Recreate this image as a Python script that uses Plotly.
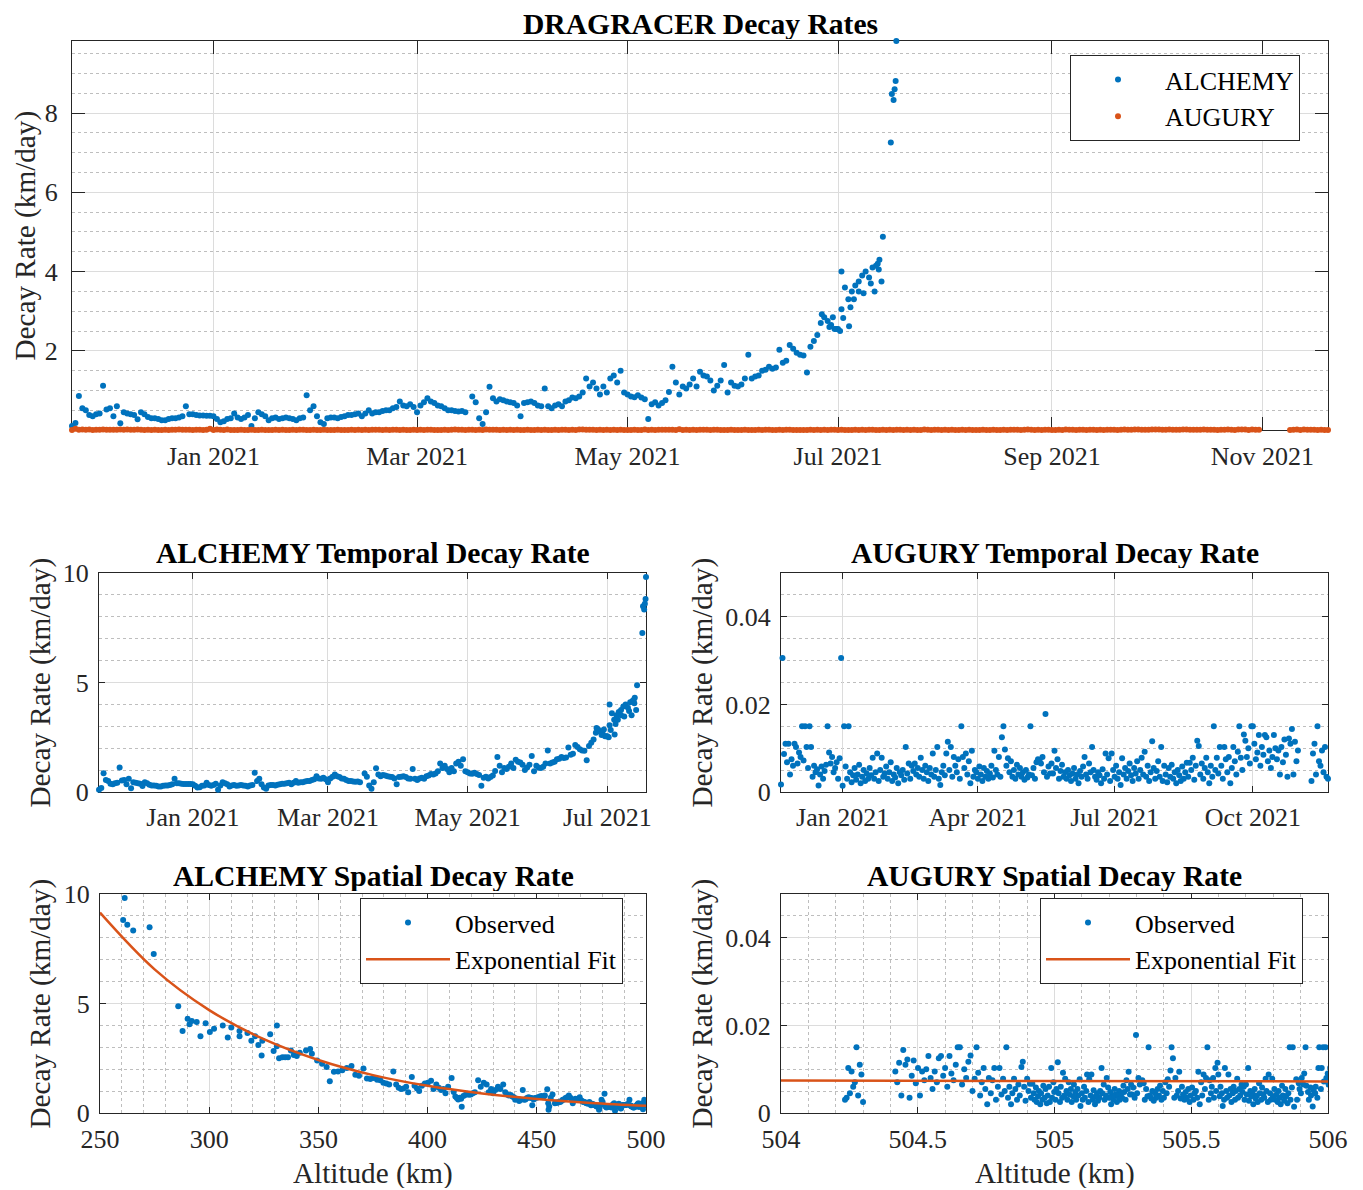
import pandas as pd
import plotly.graph_objects as go

W, H = 1363, 1190
OFF = 8  # page body margin in the browser
FONT = "Liberation Serif"
BLUE = "#0072BD"
ORANGE = "#D95319"
AXC = "#262626"

# ---------------- ALCHEMY (daily samples from start date) ----------------
alchemy_start = "2020-11-21"
alchemy_rate = [
    0.1, 0.18, 0.86, 0.55, 0.5, 0.38, 0.35, 0.4, 0.42, 1.12,
    0.52, 0.55, 0.35, 0.6, 0.17, 0.45, 0.42, 0.4, 0.38, 0.27,
    0.45, 0.4, 0.33, 0.3, 0.3, 0.28, 0.25, 0.25, 0.28, 0.3,
    0.3, 0.32, 0.35, 0.6, 0.4, 0.4, 0.38, 0.37, 0.37, 0.36,
    0.36, 0.35, 0.28, 0.2, 0.22, 0.28, 0.3, 0.42, 0.32, 0.28,
    0.32, 0.38, 0.1, 0.3, 0.45, 0.4, 0.35, 0.25, 0.3, 0.32,
    0.28, 0.3, 0.32, 0.3, 0.28, 0.25, 0.3, 0.32, 0.88, 0.5,
    0.6, 0.35, 0.2, 0.15, 0.3, 0.32, 0.32, 0.3, 0.33, 0.35,
    0.38, 0.38, 0.4, 0.42, 0.35, 0.42, 0.5, 0.42, 0.45, 0.45,
    0.48, 0.5, 0.5, 0.55, 0.58, 0.72, 0.62, 0.6, 0.65, 0.58,
    0.45, 0.62, 0.7, 0.8, 0.72, 0.68, 0.62, 0.6, 0.55, 0.5,
    0.5, 0.48, 0.47, 0.48, 0.45, None, 0.85, 0.7, 0.3, 0.15,
    0.45, 1.09, 0.8, 0.72, 0.78, 0.75, 0.72, 0.7, 0.68, 0.62,
    0.35, 0.68, 0.7, 0.72, 0.68, 0.62, 0.6, 1.05, 0.6, 0.55,
    0.62, 0.65, 0.6, 0.72, 0.75, 0.82, 0.8, 0.85, 0.95, 1.3,
    1.1, 1.2, 1.05, 0.9, 1.1, 0.95, 1.3, 1.38, 1.2, 1.5,
    0.95, 0.9, 0.85, 0.83, 0.88, 0.82, 0.78, 0.28, 0.65, 0.7,
    0.62, 0.68, 0.75, 0.96, 1.6, 1.2, 0.9, 1.1, 1.05, 1.15,
    1.3, 1.1, 1.47, 1.38, 1.35, 1.25, 1.0, 1.12, 1.25, 1.64,
    0.95, 1.2, 1.12, 1.1, 1.15, 1.3, 1.9, 1.3, 1.35, 1.38,
    1.5, 1.52, 1.6, 1.55, 1.58, 2.03, 1.7, 1.75, 2.15, 2.05,
    1.95, 1.9, 1.88, 1.45, 2.1, 2.25, 2.4, 2.7, 2.85, 2.75,
    2.65, 2.55, 2.55, 3.05, 3.6, 3.3, 3.5, 3.65, 3.75, 3.9,
    4.0, 3.85, 4.1, 4.15, 4.3, 4.88,
]
alchemy_alt = [
    505.5, 505.4, 505.22, 504.36, 503.81, 503.31, 502.93, 502.58, 502.18, 501.76,
    500.64, 500.12, 499.57, 499.22, 498.62, 498.45, 498.0, 497.58, 497.18, 496.8,
    496.53, 496.08, 495.68, 495.35, 495.05, 494.75, 494.47, 494.22, 493.97, 493.69,
    493.39, 493.09, 492.77, 492.42, 491.82, 491.42, 491.02, 490.64, 490.27, 489.9,
    489.54, 489.18, 488.83, 488.55, 488.35, 488.13, 487.85, 487.55, 487.13, 486.81,
    486.53, 486.21, 485.83, 485.73, 485.43, 484.98, 484.58, 484.23, 483.98, 483.68,
    483.36, 483.08, 482.78, 482.46, 482.16, 481.88, 481.63, 481.33, 481.01, 480.13,
    479.63, 479.03, 478.68, 478.48, 478.33, 478.03, 477.71, 477.39, 477.09, 476.76,
    476.41, 476.03, 475.65, 475.25, 474.83, 474.48, 474.06, 473.56, 473.14, 472.69,
    472.24, 471.76, 471.26, 470.76, 470.21, 469.63, 468.91, 468.29, 467.69, 467.04,
    466.46, 466.01, 465.39, 464.69, 463.89, 463.17, 462.49, 461.87, 461.27, 460.72,
    460.22, 459.72, 459.24, 458.77, 458.29, None, 457.2, 456.39, 455.69, 455.39,
    455.24, 454.79, 453.7, 452.9, 452.18, 451.4, 450.65, 449.93, 449.23, 448.55,
    447.93, 447.58, 446.9, 446.2, 445.48, 444.8, 444.18, 443.58, 442.53, 441.93,
    441.38, 440.76, 440.11, 439.51, 438.79, 438.04, 437.22, 436.42, 435.57, 434.62,
    433.32, 432.22, 431.02, 429.97, 429.07, 427.97, 427.02, 425.72, 424.34, 423.14,
    421.64, 420.69, 419.79, 418.94, 418.11, 417.23, 416.41, 415.63, 415.35, 414.7,
    414.0, 413.38, 412.7, 411.95, 410.99, 409.39, 408.19, 407.29, 406.19, 405.14,
    403.99, 402.69, 401.59, 400.12, 398.74, 397.39, 396.14, 395.14, 394.02, 392.77,
    391.13, 390.18, 388.98, 387.86, 386.76, 385.61, 384.31, 382.41, 381.11, 379.76,
    378.38, 376.88, 375.36, 373.76, 372.21, 370.63, 368.6, 366.9, 365.15, 363.0,
    360.95, 359.0, 357.1, 355.22, 353.77, 351.67, 349.42, 347.02, 344.32, 341.47,
    338.72, 336.07, 333.52, 330.97, 327.92, 324.32, 321.02, 317.52, 313.87, 310.12,
    306.22, 302.22, 298.37, 294.27, 290.12, 285.82,
]
# additional (sub-daily) ALCHEMY observations
alchemy_extra_day = [217.3, 219.5, 220.5, 221.5, 222.6, 223.0, 223.5, 225.2, 225.6, 226.6,
                     228.0, 229.4, 231.5, 232.6, 233.5, 233.8, 234.6,
                     237.3, 237.6, 238.1, 238.4, 238.7, 238.9]
alchemy_extra_rate = [2.92, 2.60, 2.85, 2.55, 2.50, 4.00, 2.83, 2.62, 3.10, 3.30,
                      3.50, 3.45, 3.70, 3.50, 4.20, 4.05, 3.75,
                      7.26, 8.48, 8.33, 8.60, 8.81, 9.82]
alchemy_extra_alt = [346.2, 340.1, 337.4, 334.8, 332.0, 331.0, 329.5, 324.0, 322.5, 319.3,
                     313.9, 308.5, 300.3, 296.0, 292.0, 291.0, 287.8,
                     274.6, 272.7, 265.2, 262.5, 260.6, 261.3]

# ---------------- AUGURY (daily samples from start date) ----------------
augury_start = "2020-11-21"
augury_rate = [
    0.0017, 0.0306, 0.0087, 0.0110, 0.0068, 0.0110, 0.0040, 0.0075, 0.0060, 0.0110,
    0.0103, 0.0065, 0.0090, 0.0080, 0.0150, 0.0072, 0.0150, 0.0103, 0.0055, 0.0150,
    0.0103, 0.0035, 0.0060, 0.0045, 0.0052, 0.0015, 0.0040, 0.0058, 0.0030, 0.0048,
    0.0062, 0.0150, 0.0090, 0.0065, 0.0080, 0.0045, 0.0055, 0.0068, 0.0030, 0.0077,
    0.0306, 0.0014, 0.0150, 0.0058, 0.0030, 0.0150, 0.0045, 0.0022, 0.0038, 0.0055,
    0.0028, 0.0040, 0.0062, 0.0020, 0.0035, 0.0050, 0.0025, 0.0042, 0.0030, 0.0055,
    0.0038, 0.0078, 0.0030, 0.0045, 0.0088, 0.0025, 0.0050, 0.0078, 0.0035, 0.0042,
    0.0058, 0.0030, 0.0045, 0.0068, 0.0025, 0.0040, 0.0033, 0.0055, 0.0020, 0.0045,
    0.0038, 0.0050, 0.0028, 0.0103, 0.0042, 0.0065, 0.0030, 0.0060, 0.0048, 0.0065,
    0.0040, 0.0055, 0.0035, 0.0078, 0.0050, 0.0030, 0.0060, 0.0045, 0.0025, 0.0055,
    0.0040, 0.0088, 0.0035, 0.0050, 0.0103, 0.0030, 0.0016, 0.0045, 0.0060, 0.0038,
    0.0088, 0.0115, 0.0050, 0.0103, 0.0035, 0.0080, 0.0060, 0.0045, 0.0075, 0.0030,
    0.0150, 0.0080, 0.0055, 0.0088, 0.0040, 0.0070, 0.0020, 0.0094, 0.0035, 0.0050,
    0.0045, 0.0030, 0.0058, 0.0040, 0.0025, 0.0055, 0.0035, 0.0048, 0.0030, 0.0042,
    0.0060, 0.0033, 0.0094, 0.0050, 0.0040, 0.0080, 0.0035, 0.0125, 0.0150, 0.0097,
    0.0060, 0.0077, 0.0045, 0.0070, 0.0035, 0.0050, 0.0030, 0.0062, 0.0040, 0.0055,
    0.0035, 0.0045, 0.0028, 0.0050, 0.0033, 0.0040, 0.0150, 0.0038, 0.0055, 0.0030,
    0.0068, 0.0075, 0.0072, 0.0065, 0.0080, 0.0045, 0.0178, 0.0035, 0.0058, 0.0042,
    0.0065, 0.0042, 0.0094, 0.0055, 0.0075, 0.0030, 0.0048, 0.0062, 0.0035, 0.0045,
    0.0030, 0.0050, 0.0038, 0.0025, 0.0042, 0.0055, 0.0030, 0.0040, 0.0020, 0.0048,
    0.0035, 0.0058, 0.0080, 0.0040, 0.0030, 0.0065, 0.0045, 0.0103, 0.0050, 0.0035,
    0.0028, 0.0045, 0.0038, 0.0020, 0.0052, 0.0030, 0.0088, 0.0040, 0.0077, 0.0025,
    0.0088, 0.0050, 0.0035, 0.0060, 0.0030, 0.0045, 0.0016, 0.0077, 0.0040, 0.0055,
    0.0030, 0.0048, 0.0065, 0.0038, 0.0025, 0.0055, 0.0042, 0.0070, 0.0030, 0.0050,
    0.0078, 0.0040, 0.0092, 0.0035, 0.0060, 0.0025, 0.0045, 0.0116, 0.0055, 0.0030,
    0.0048, 0.0070, 0.0035, 0.0103, 0.0025, 0.0060, 0.0040, 0.0022, 0.0055, 0.0035,
    0.0062, 0.0030, 0.0045, 0.0020, 0.0050, 0.0038, 0.0025, 0.0058, 0.0030, 0.0045,
    0.0067, 0.0035, 0.0067, 0.0050, 0.0078, 0.0028, 0.0060, 0.0117, 0.0105, 0.0040,
    0.0065, 0.0030, 0.0055, 0.0078, 0.0045, 0.0020, 0.0060, 0.0035, 0.0150, 0.0050,
    0.0078, 0.0042, 0.0103, 0.0060, 0.0030, 0.0103, 0.0075, 0.0045, 0.0080, 0.0020,
    0.0055, 0.0103, 0.0070, 0.0040, 0.0092, 0.0150, 0.0078, 0.0050, 0.0131, 0.0117,
    0.0080, 0.0100, 0.0065, 0.0150, 0.0150, 0.0110, 0.0075, 0.0090, 0.0130, 0.0060,
    0.0103, 0.0085, 0.0130, 0.0125, 0.0070, 0.0095, 0.0055, 0.0080, 0.0130, 0.0100,
    0.0075, 0.0095, 0.0040, 0.0103, 0.0068, 0.0120, 0.0085, 0.0035, 0.0122, 0.0110,
    0.0144, 0.0040, 0.0115, 0.0070, 0.0095, None, None, None, None, None,
    None, None, None, 0.0025, 0.0088, 0.0110, 0.0040, 0.0150, 0.0070, 0.0060,
    0.0095, 0.0045, 0.0103, 0.0035, 0.0030,
]
augury_alt = [
    506.050, 506.044, 506.041, 506.035, 506.033, 506.027, 506.025, 506.019, 506.016, 506.011,
    506.008, 506.002, 505.999, 505.994, 505.991, 505.985, 505.982, 505.977, 505.974, 505.968,
    505.965, 505.961, 505.955, 505.953, 505.947, 505.944, 505.938, 505.936, 505.930, 505.927,
    505.921, 505.918, 505.913, 505.910, 505.904, 505.901, 505.896, 505.893, 505.887, 505.884,
    505.880, 505.876, 505.871, 505.868, 505.863, 505.860, 505.855, 505.852, 505.847, 505.844,
    505.840, 505.835, 505.832, 505.827, 505.824, 505.819, 505.816, 505.812, 505.807, 505.804,
    505.799, 505.796, 505.791, 505.788, 505.783, 505.780, 505.775, 505.772, 505.767, 505.764,
    505.759, 505.756, 505.751, 505.748, 505.743, 505.740, 505.735, 505.732, 505.727, 505.724,
    505.719, 505.716, 505.711, 505.708, 505.703, 505.700, 505.695, 505.692, 505.687, 505.684,
    505.679, 505.676, 505.671, 505.668, 505.663, 505.660, 505.655, 505.652, 505.647, 505.644,
    505.639, 505.636, 505.631, 505.628, 505.623, 505.620, 505.615, 505.612, 505.607, 505.604,
    505.599, 505.596, 505.591, 505.588, 505.583, 505.580, 505.575, 505.572, 505.567, 505.564,
    505.559, 505.554, 505.550, 505.545, 505.540, 505.536, 505.531, 505.526, 505.522, 505.517,
    505.512, 505.508, 505.503, 505.498, 505.494, 505.489, 505.484, 505.480, 505.475, 505.470,
    505.466, 505.461, 505.456, 505.452, 505.447, 505.442, 505.438, 505.433, 505.428, 505.424,
    505.419, 505.414, 505.410, 505.405, 505.400, 505.396, 505.391, 505.386, 505.382, 505.377,
    505.372, 505.368, 505.363, 505.358, 505.354, 505.349, 505.344, 505.340, 505.335, 505.330,
    505.326, 505.321, 505.316, 505.312, 505.307, 505.302, 505.298, 505.293, 505.288, 505.284,
    505.280, 505.276, 505.271, 505.268, 505.263, 505.260, 505.255, 505.252, 505.247, 505.244,
    505.239, 505.236, 505.231, 505.228, 505.223, 505.220, 505.215, 505.212, 505.207, 505.204,
    505.199, 505.196, 505.191, 505.188, 505.183, 505.180, 505.175, 505.172, 505.167, 505.164,
    505.159, 505.156, 505.151, 505.148, 505.143, 505.140, 505.135, 505.132, 505.127, 505.124,
    505.119, 505.116, 505.111, 505.108, 505.103, 505.100, 505.095, 505.092, 505.087, 505.084,
    505.079, 505.076, 505.071, 505.068, 505.063, 505.060, 505.055, 505.052, 505.047, 505.044,
    505.039, 505.036, 505.031, 505.028, 505.023, 505.020, 505.015, 505.012, 505.007, 505.004,
    504.999, 504.996, 504.991, 504.988, 504.983, 504.980, 504.975, 504.972, 504.967, 504.964,
    504.959, 504.956, 504.951, 504.948, 504.943, 504.940, 504.935, 504.932, 504.927, 504.924,
    504.919, 504.914, 504.910, 504.905, 504.900, 504.894, 504.889, 504.884, 504.879, 504.873,
    504.868, 504.863, 504.857, 504.852, 504.846, 504.841, 504.835, 504.830, 504.824, 504.818,
    504.812, 504.806, 504.799, 504.793, 504.786, 504.780, 504.773, 504.767, 504.760, 504.754,
    504.747, 504.741, 504.734, 504.728, 504.721, 504.715, 504.708, 504.700, 504.693, 504.685,
    504.677, 504.670, 504.662, 504.654, 504.646, 504.639, 504.631, 504.623, 504.616, 504.608,
    504.600, 504.593, 504.585, 504.577, 504.570, 504.562, 504.554, 504.547, 504.539, 504.531,
    504.524, 504.516, 504.508, 504.501, 504.493, 504.485, 504.478, 504.470, 504.462, 504.455,
    504.447, 504.440, 504.432, 504.425, 504.418, None, None, None, None, None,
    None, None, None, 504.300, 504.294, 504.288, 504.282, 504.276, 504.270, 504.264,
    504.258, 504.252, 504.246, 504.240, 504.234,
]

# exponential fit curves
alchemy_fit_alt = [250, 275, 300, 325, 350, 375, 400, 425, 450, 475, 500]
alchemy_fit_rate = [9.15, 6.56, 4.70, 3.37, 2.42, 1.73, 1.24, 0.89, 0.64, 0.46, 0.33]
augury_fit_alt = [504.0, 505.0, 506.0]
augury_fit_rate = [0.0074, 0.00731, 0.0072]

# ---------------- build time stamps ----------------
t_alc0 = pd.Timestamp(alchemy_start)
alc_t = [t_alc0 + pd.Timedelta(days=i) for i in range(len(alchemy_rate))] + \
        [t_alc0 + pd.Timedelta(days=d) for d in alchemy_extra_day]
alc_r = alchemy_rate + alchemy_extra_rate
alc_a = alchemy_alt + alchemy_extra_alt
t_aug0 = pd.Timestamp(augury_start)
aug_t = [t_aug0 + pd.Timedelta(days=i) for i in range(len(augury_rate))]


def px_x(p):
    return (p - OFF) / W


def px_y(p):
    return 1 - (p - OFF) / H


fig = go.Figure()
MS = 6

# top panel
fig.add_trace(go.Scatter(x=alc_t, y=alc_r, mode="markers", name="ALCHEMY",
                         marker=dict(color=BLUE, size=MS), xaxis="x", yaxis="y",
                         cliponaxis=False, legend="legend"))
fig.add_trace(go.Scatter(x=aug_t, y=augury_rate, mode="markers", name="AUGURY",
                         marker=dict(color=ORANGE, size=MS), xaxis="x", yaxis="y",
                         cliponaxis=False, legend="legend"))
# middle left
fig.add_trace(go.Scatter(x=alc_t, y=alc_r, mode="markers", showlegend=False,
                         marker=dict(color=BLUE, size=MS), xaxis="x2", yaxis="y2",
                         cliponaxis=False))
# middle right
fig.add_trace(go.Scatter(x=aug_t, y=augury_rate, mode="markers", showlegend=False,
                         marker=dict(color=BLUE, size=MS), xaxis="x3", yaxis="y3",
                         cliponaxis=False))
# bottom left
fig.add_trace(go.Scatter(x=alc_a, y=alc_r, mode="markers", name="Observed",
                         marker=dict(color=BLUE, size=MS), xaxis="x4", yaxis="y4",
                         legend="legend2"))
fig.add_trace(go.Scatter(x=alchemy_fit_alt, y=alchemy_fit_rate, mode="lines",
                         name="Exponential Fit", line=dict(color=ORANGE, width=2.5, shape="spline"),
                         xaxis="x4", yaxis="y4", legend="legend2"))
# bottom right
fig.add_trace(go.Scatter(x=augury_alt, y=augury_rate, mode="markers", name="Observed",
                         marker=dict(color=BLUE, size=MS), xaxis="x5", yaxis="y5",
                         legend="legend3"))
fig.add_trace(go.Scatter(x=augury_fit_alt, y=augury_fit_rate, mode="lines",
                         name="Exponential Fit", line=dict(color=ORANGE, width=2.5),
                         xaxis="x5", yaxis="y5", legend="legend3"))

TICKFONT = dict(family=FONT, size=26, color=AXC)


def axis(domain, ticklen, anchor, **kw):
    d = dict(domain=domain, anchor=anchor, showline=True, linecolor=AXC, linewidth=1,
             mirror="ticks", ticks="inside", ticklen=ticklen, tickcolor=AXC, tickwidth=1,
             showgrid=True, gridcolor="#DCDCDC", gridwidth=1, zeroline=False,
             tickfont=TICKFONT, layer="below traces", automargin=False)
    d.update(kw)
    return d


def minor(dt):
    return dict(dtick=dt, showgrid=True, gridcolor="#BEBEBE", griddash="dot",
                gridwidth=1, ticks="")


top_x = [px_x(72), px_x(1328)]
top_y = [px_y(430), px_y(41)]
ml_x = [px_x(99), px_x(646)]
mr_x = [px_x(781), px_x(1328)]
mid_y = [px_y(792), px_y(573)]
bot_y = [px_y(1113), px_y(894)]
bl_x = [px_x(100), px_x(646)]

end_alc = t_alc0 + pd.Timedelta(days=alchemy_extra_day[-1])
end_aug = aug_t[-1]

fig.update_layout(
    width=W, height=H, margin=dict(l=0, r=0, t=0, b=0, autoexpand=False),
    paper_bgcolor="white", plot_bgcolor="white",
    xaxis=axis(top_x, 13, "y", type="date", range=[t_alc0, end_aug],
               dtick="M2", tick0="2021-01-01", tickformat="%b %Y", ticklabelstandoff=3),
    yaxis=axis(top_y, 13, "x", range=[0.0014, 9.82], dtick=2, tick0=0,
               minor=minor(0.5), ticklabelstandoff=8),
    xaxis2=axis(ml_x, 6, "y2", type="date", range=[t_alc0, end_alc],
                dtick="M2", tick0="2021-01-01", tickformat="%b %Y", ticklabelstandoff=2),
    yaxis2=axis(mid_y, 6, "x2", range=[0, 10], dtick=5, tick0=0,
                minor=minor(1), ticklabelstandoff=4),
    xaxis3=axis(mr_x, 6, "y3", type="date", range=[t_aug0, end_aug],
                dtick="M3", tick0="2021-01-01", tickformat="%b %Y", ticklabelstandoff=2),
    yaxis3=axis(mid_y, 6, "x3", range=[0, 0.05], dtick=0.02, tick0=0,
                minor=minor(0.005), ticklabelstandoff=4),
    xaxis4=axis(bl_x, 6, "y4", range=[250, 500], dtick=50, tick0=250,
                minor=minor(10), ticklabelstandoff=3),
    yaxis4=axis(bot_y, 6, "x4", range=[0, 10], dtick=5, tick0=0,
                minor=minor(1), ticklabelstandoff=4),
    xaxis5=axis(mr_x, 6, "y5", range=[504, 506], dtick=0.5, tick0=504,
                minor=minor(0.1), ticklabelstandoff=3),
    yaxis5=axis(bot_y, 6, "x5", range=[0, 0.05], dtick=0.02, tick0=0,
                minor=minor(0.005), ticklabelstandoff=4),
)

LEG = dict(xanchor="left", yanchor="top", bgcolor="white", bordercolor=AXC, borderwidth=1,
           font=dict(family=FONT, size=26, color="black"), itemwidth=84, tracegroupgap=0)
fig.update_layout(
    legend=dict(LEG, x=px_x(1070), y=px_y(55)),
    legend2=dict(LEG, x=px_x(360), y=px_y(898)),
    legend3=dict(LEG, x=px_x(1040), y=px_y(898)),
)

TITLEFONT = dict(family=FONT, size=29.6, color="black")
LABFONT = dict(family=FONT, size=29.2, color=AXC)
ann = []
for txt, x, y in [("DRAGRACER Decay Rates", 700, 24),
                  ("ALCHEMY Temporal Decay Rate", 372.5, 553),
                  ("AUGURY Temporal Decay Rate", 1054.5, 553),
                  ("ALCHEMY Spatial Decay Rate", 373, 876),
                  ("AUGURY Spatial Decay Rate", 1054.5, 876)]:
    ann.append(dict(text="<b>" + txt + "</b>", x=px_x(x), y=px_y(y), xref="paper", yref="paper",
                    xanchor="center", yanchor="middle", showarrow=False, font=TITLEFONT,
                    height=30, valign="middle"))
for x, y in [(25, 235.5), (40, 682.5), (702, 682.5), (40, 1003.5), (702, 1003.5)]:
    ann.append(dict(text="Decay Rate (km/day)", x=px_x(x), y=px_y(y), xref="paper", yref="paper",
                    xanchor="center", yanchor="middle", textangle=-90, showarrow=False, font=LABFONT))
for x in [373, 1054.5]:
    ann.append(dict(text="Altitude (km)", x=px_x(x), y=px_y(1173), xref="paper", yref="paper",
                    xanchor="center", yanchor="middle", showarrow=False, font=LABFONT,
                    height=30, valign="middle"))
fig.update_layout(annotations=ann)

fig.write_html("out.html")
